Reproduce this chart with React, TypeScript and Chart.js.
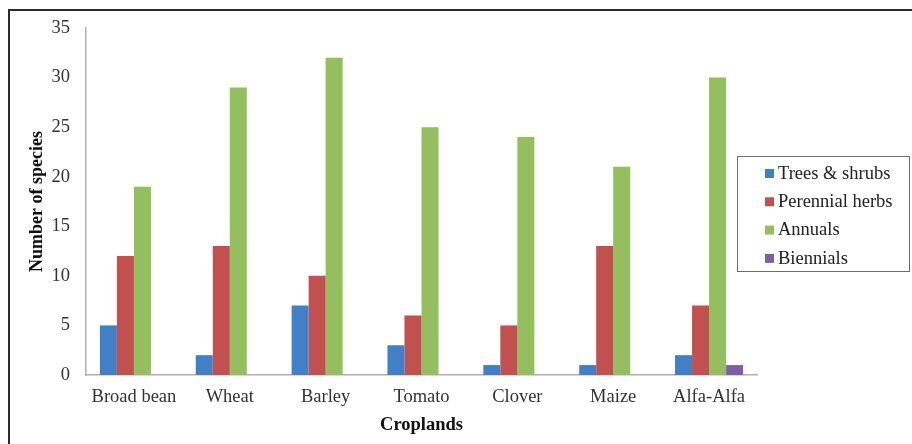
import { useEffect, useRef } from "react";
import { Chart, registerables } from "chart.js";

Chart.register(...registerables);

// Number of weed species recorded per cropland, by life form
const croplands = ["Broad bean", "Wheat", "Barley", "Tomato", "Clover", "Maize", "Alfa-Alfa"];
const treesShrubs = [5, 2, 7, 3, 1, 1, 2];
const perennialHerbs = [12, 13, 10, 6, 5, 13, 7];
const annuals = [19, 29, 32, 25, 24, 21, 30];
const biennials = [0, 0, 0, 0, 0, 0, 1];

const seriesNames = ["Trees & shrubs", "Perennial herbs", "Annuals", "Biennials"];
const seriesValues = [treesShrubs, perennialHerbs, annuals, biennials];
const seriesColors = ["#4180c6", "#c1504e", "#93bf5e", "#7c60a6"];

const yMax = 35;
const yStep = 5;

const SERIF = "'Liberation Serif', 'Times New Roman', serif";
const W = 912;
const H = 444;

// White page with the dark frame along the top and left edges
const framePlugin = {
  id: "frame",
  beforeDraw(chart: Chart) {
    const { ctx } = chart;
    ctx.save();
    ctx.fillStyle = "#ffffff";
    ctx.fillRect(0, 0, chart.width, chart.height);
    ctx.strokeStyle = "#2b2b2b";
    ctx.lineWidth = 2;
    ctx.beginPath();
    ctx.moveTo(9, chart.height);
    ctx.lineTo(9, 10);
    ctx.lineTo(chart.width, 10);
    ctx.stroke();
    ctx.restore();
  },
};

// Boxed legend on the right, overlapping the plot's right margin
const boxLegendPlugin = {
  id: "boxLegend",
  afterDraw(chart: Chart) {
    const { ctx } = chart;
    const left = 737;
    const top = 156;
    const boxW = 172;
    const boxH = 115;
    ctx.save();
    ctx.fillStyle = "#ffffff";
    ctx.fillRect(left, top, boxW, boxH);
    ctx.strokeStyle = "#6e6e6e";
    ctx.lineWidth = 1;
    ctx.strokeRect(left + 0.5, top + 0.5, boxW, boxH);
    ctx.font = `18.5px ${SERIF}`;
    ctx.textBaseline = "middle";
    ctx.textAlign = "left";
    chart.data.datasets.forEach((ds, i) => {
      const y = top + 17 + i * 28.3;
      ctx.fillStyle = ds.backgroundColor as string;
      ctx.fillRect(765, y - 4, 9, 9);
      ctx.fillStyle = "#222222";
      ctx.fillText(ds.label as string, 778, y + 1);
    });
    ctx.restore();
  },
};

export default function App() {
  const canvasRef = useRef<HTMLCanvasElement | null>(null);

  useEffect(() => {
    const canvas = canvasRef.current;
    if (!canvas) return;
    const chart = new Chart(canvas, {
      type: "bar",
      data: {
        labels: croplands,
        datasets: seriesNames.map((name, i) => ({
          label: name,
          data: seriesValues[i],
          backgroundColor: seriesColors[i],
          borderWidth: 0,
          categoryPercentage: 0.71,
          barPercentage: 1,
        })),
      },
      options: {
        responsive: false,
        animation: false,
        devicePixelRatio: 1,
        layout: { padding: { left: 0, top: 28, right: 155, bottom: 0 } },
        plugins: {
          legend: { display: false },
          tooltip: { enabled: false },
        },
        scales: {
          x: {
            grid: { display: false, drawTicks: false },
            border: { display: true, color: "#b0b0b0", width: 1.5 },
            ticks: {
              padding: 11,
              color: "#333333",
              font: { family: SERIF, size: 18.5 },
              maxRotation: 0,
              autoSkip: false,
            },
            title: {
              display: true,
              text: "Croplands",
              color: "#111111",
              font: { family: SERIF, size: 18.5, weight: "bold" },
              padding: { top: 0, bottom: 8 },
            },
            afterFit(scale: any) {
              scale.height = 69;
            },
          },
          y: {
            min: 0,
            max: yMax,
            grid: { display: false, drawTicks: false },
            border: { display: true, color: "#b0b0b0", width: 1.5 },
            ticks: {
              stepSize: yStep,
              padding: 16,
              color: "#333333",
              font: { family: SERIF, size: 18.5 },
            },
            title: {
              display: true,
              text: "Number of species",
              color: "#111111",
              font: { family: SERIF, size: 18, weight: "bold" },
              padding: { top: 27, bottom: 0 },
            },
            afterFit(scale: any) {
              scale.width = 86;
            },
          },
        },
      },
      plugins: [framePlugin, boxLegendPlugin],
    });
    return () => chart.destroy();
  }, []);

  return (
    <div style={{ position: "absolute", left: 0, top: 0, width: W, height: H, background: "#fff" }}>
      <canvas ref={canvasRef} width={W} height={H} style={{ display: "block" }} />
    </div>
  );
}
